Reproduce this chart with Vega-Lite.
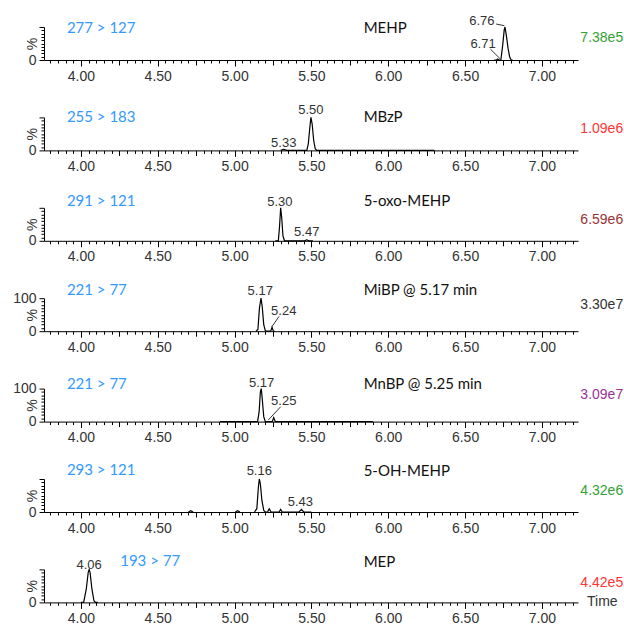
{
"$schema": "https://vega.github.io/schema/vega-lite/v6.json",
"background": "white",
"padding": {"left": 12, "top": 15, "right": 2, "bottom": 2},
"bounds": "flush",
"spacing": 57.4,
"config": {
  "view": {"stroke": null},
  "axis": {"domainColor": "#000", "tickColor": "#000", "labelColor": "#333", "labelFont": "Liberation Sans", "labelFontSize": 14, "grid": false, "domainWidth": 1, "tickWidth": 1}
},
"data": {"values": [
{"p":1,"k":"tr","s":1,"x":6.69,"y":0},{"p":1,"k":"tr","s":1,"x":6.705,"y":0},{"p":1,"k":"tr","s":1,"x":6.712,"y":3},{"p":1,"k":"tr","s":1,"x":6.72,"y":0},{"p":1,"k":"tr","s":1,"x":6.733,"y":0},{"p":1,"k":"tr","s":1,"x":6.745,"y":45},{"p":1,"k":"tr","s":1,"x":6.755,"y":92},{"p":1,"k":"tr","s":1,"x":6.76,"y":100},{"p":1,"k":"tr","s":1,"x":6.77,"y":70},{"p":1,"k":"tr","s":1,"x":6.78,"y":35},{"p":1,"k":"tr","s":1,"x":6.79,"y":10},{"p":1,"k":"tr","s":1,"x":6.8,"y":0},{"p":1,"k":"tr","s":1,"x":6.81,"y":0},
{"p":1,"k":"pk","x":6.609,"y":117,"t":"6.76"},{"p":1,"k":"pk","x":6.617,"y":48,"t":"6.71"},
{"p":1,"k":"ld","x":6.702,"y":109,"x2":6.756,"y2":104},{"p":1,"k":"ld","x":6.665,"y":33,"x2":6.73,"y2":3},
{"p":1,"k":"io","x":3.909,"y":96,"t":"277 > 127"},{"p":1,"k":"nm","x":5.84,"y":97,"t":"MEHP"},{"p":1,"k":"in","x":7.529,"y":66,"t":"7.38e5"},

{"p":2,"k":"tr","s":1,"x":5.3,"y":0},{"p":2,"k":"tr","s":1,"x":5.32,"y":3},{"p":2,"k":"tr","s":1,"x":5.34,"y":0},{"p":2,"k":"tr","s":1,"x":5.47,"y":0},{"p":2,"k":"tr","s":1,"x":5.48,"y":20},{"p":2,"k":"tr","s":1,"x":5.49,"y":70},{"p":2,"k":"tr","s":1,"x":5.497,"y":100},{"p":2,"k":"tr","s":1,"x":5.505,"y":80},{"p":2,"k":"tr","s":1,"x":5.515,"y":30},{"p":2,"k":"tr","s":1,"x":5.525,"y":5},{"p":2,"k":"tr","s":1,"x":5.535,"y":0},{"p":2,"k":"tr","s":1,"x":6.3,"y":0},
{"p":2,"k":"pk","x":5.497,"y":121,"t":"5.50"},{"p":2,"k":"pk","x":5.32,"y":23,"t":"5.33"},
{"p":2,"k":"io","x":3.909,"y":100,"t":"255 > 183"},{"p":2,"k":"nm","x":5.84,"y":100,"t":"MBzP"},{"p":2,"k":"in","x":7.529,"y":66,"t":"1.09e6"},

{"p":3,"k":"tr","s":1,"x":5.265,"y":0},{"p":3,"k":"tr","s":1,"x":5.285,"y":0},{"p":3,"k":"tr","s":1,"x":5.293,"y":45},{"p":3,"k":"tr","s":1,"x":5.3,"y":100},{"p":3,"k":"tr","s":1,"x":5.307,"y":70},{"p":3,"k":"tr","s":1,"x":5.315,"y":15},{"p":3,"k":"tr","s":1,"x":5.325,"y":0},{"p":3,"k":"tr","s":1,"x":5.455,"y":0},{"p":3,"k":"tr","s":1,"x":5.47,"y":3},{"p":3,"k":"tr","s":1,"x":5.485,"y":0},{"p":3,"k":"tr","s":1,"x":5.51,"y":0},
{"p":3,"k":"pk","x":5.295,"y":118,"t":"5.30"},{"p":3,"k":"pk","x":5.47,"y":27,"t":"5.47"},
{"p":3,"k":"io","x":3.909,"y":120,"t":"291 > 121"},{"p":3,"k":"nm","x":5.84,"y":120,"t":"5-oxo-MEHP"},{"p":3,"k":"in","x":7.529,"y":62,"t":"6.59e6"},

{"p":4,"k":"tr","s":1,"x":5.14,"y":0},{"p":4,"k":"tr","s":1,"x":5.152,"y":5},{"p":4,"k":"tr","s":1,"x":5.162,"y":70},{"p":4,"k":"tr","s":1,"x":5.172,"y":100},{"p":4,"k":"tr","s":1,"x":5.18,"y":75},{"p":4,"k":"tr","s":1,"x":5.19,"y":20},{"p":4,"k":"tr","s":1,"x":5.2,"y":2},{"p":4,"k":"tr","s":1,"x":5.21,"y":0},{"p":4,"k":"tr","s":1,"x":5.235,"y":0},{"p":4,"k":"tr","s":1,"x":5.244,"y":12},{"p":4,"k":"tr","s":1,"x":5.253,"y":0},{"p":4,"k":"tr","s":1,"x":5.26,"y":0},
{"p":4,"k":"pk","x":5.167,"y":121,"t":"5.17"},{"p":4,"k":"pk","x":5.32,"y":61,"t":"5.24"},
{"p":4,"k":"ld","x":5.29,"y":45,"x2":5.242,"y2":13},
{"p":4,"k":"io","x":3.909,"y":125,"t":"221 > 77"},{"p":4,"k":"nm","x":5.84,"y":125,"t":"MiBP @ 5.17 min"},{"p":4,"k":"in","x":7.529,"y":80,"t":"3.30e7"},

{"p":5,"k":"tr","s":1,"x":4.905,"y":0},{"p":5,"k":"tr","s":1,"x":5.15,"y":0},{"p":5,"k":"tr","s":1,"x":5.16,"y":30},{"p":5,"k":"tr","s":1,"x":5.168,"y":90},{"p":5,"k":"tr","s":1,"x":5.174,"y":100},{"p":5,"k":"tr","s":1,"x":5.18,"y":70},{"p":5,"k":"tr","s":1,"x":5.19,"y":15},{"p":5,"k":"tr","s":1,"x":5.2,"y":0},{"p":5,"k":"tr","s":1,"x":5.245,"y":0},{"p":5,"k":"tr","s":1,"x":5.255,"y":12},{"p":5,"k":"tr","s":1,"x":5.265,"y":0},{"p":5,"k":"tr","s":1,"x":5.9,"y":0},
{"p":5,"k":"pk","x":5.176,"y":116,"t":"5.17"},{"p":5,"k":"pk","x":5.32,"y":61,"t":"5.25"},
{"p":5,"k":"ld","x":5.3,"y":45,"x2":5.22,"y2":5},
{"p":5,"k":"io","x":3.909,"y":114,"t":"221 > 77"},{"p":5,"k":"nm","x":5.84,"y":114,"t":"MnBP @ 5.25 min"},{"p":5,"k":"in","x":7.529,"y":80,"t":"3.09e7"},

{"p":6,"k":"tr","s":1,"x":4.7,"y":0},{"p":6,"k":"tr","s":1,"x":4.715,"y":4},{"p":6,"k":"tr","s":1,"x":4.73,"y":0},
{"p":6,"k":"tr","s":2,"x":5.005,"y":0},{"p":6,"k":"tr","s":2,"x":5.02,"y":4},{"p":6,"k":"tr","s":2,"x":5.035,"y":0},
{"p":6,"k":"tr","s":3,"x":5.13,"y":0},{"p":6,"k":"tr","s":3,"x":5.145,"y":10},{"p":6,"k":"tr","s":3,"x":5.155,"y":75},{"p":6,"k":"tr","s":3,"x":5.161,"y":100},{"p":6,"k":"tr","s":3,"x":5.168,"y":85},{"p":6,"k":"tr","s":3,"x":5.178,"y":35},{"p":6,"k":"tr","s":3,"x":5.19,"y":5},{"p":6,"k":"tr","s":3,"x":5.2,"y":0},{"p":6,"k":"tr","s":3,"x":5.215,"y":0},{"p":6,"k":"tr","s":3,"x":5.226,"y":10},{"p":6,"k":"tr","s":3,"x":5.237,"y":0},{"p":6,"k":"tr","s":3,"x":5.29,"y":0},{"p":6,"k":"tr","s":3,"x":5.3,"y":8},{"p":6,"k":"tr","s":3,"x":5.31,"y":0},{"p":6,"k":"tr","s":3,"x":5.42,"y":0},{"p":6,"k":"tr","s":3,"x":5.435,"y":8},{"p":6,"k":"tr","s":3,"x":5.45,"y":0},{"p":6,"k":"tr","s":3,"x":5.5,"y":0},
{"p":6,"k":"pk","x":5.161,"y":124,"t":"5.16"},{"p":6,"k":"pk","x":5.428,"y":30,"t":"5.43"},
{"p":6,"k":"io","x":3.909,"y":126,"t":"293 > 121"},{"p":6,"k":"nm","x":5.84,"y":125,"t":"5-OH-MEHP"},{"p":6,"k":"in","x":7.529,"y":64,"t":"4.32e6"},

{"p":7,"k":"tr","s":1,"x":4.0,"y":0},{"p":7,"k":"tr","s":1,"x":4.018,"y":0},{"p":7,"k":"tr","s":1,"x":4.035,"y":40},{"p":7,"k":"tr","s":1,"x":4.048,"y":92},{"p":7,"k":"tr","s":1,"x":4.054,"y":100},{"p":7,"k":"tr","s":1,"x":4.06,"y":90},{"p":7,"k":"tr","s":1,"x":4.072,"y":40},{"p":7,"k":"tr","s":1,"x":4.085,"y":5},{"p":7,"k":"tr","s":1,"x":4.095,"y":0},{"p":7,"k":"tr","s":1,"x":4.11,"y":0},
{"p":7,"k":"pk","x":4.054,"y":113,"t":"4.06"},
{"p":7,"k":"io","x":4.256,"y":124,"t":"193 > 77"},{"p":7,"k":"nm","x":5.84,"y":123,"t":"MEP"},{"p":7,"k":"in","x":7.529,"y":58,"t":"4.42e5"},{"p":7,"k":"tm","x":7.294,"y":0,"t":"Time"}
]},
"vconcat": [
{"width":534,"height":33,"transform":[{"filter":"datum.p==1"}],
 "encoding":{
  "x":{"field":"x","type":"quantitative","scale":{"domain":[3.76,7.235],"nice":false,"zero":false},"axis":{"title":null,"values":[3.8,3.85,3.9,3.95,4,4.05,4.1,4.15,4.2,4.25,4.3,4.35,4.4,4.45,4.5,4.55,4.6,4.65,4.7,4.75,4.8,4.85,4.9,4.95,5,5.05,5.1,5.15,5.2,5.25,5.3,5.35,5.4,5.45,5.5,5.55,5.6,5.65,5.7,5.75,5.8,5.85,5.9,5.95,6,6.05,6.1,6.15,6.2,6.25,6.3,6.35,6.4,6.45,6.5,6.55,6.6,6.65,6.7,6.75,6.8,6.85,6.9,6.95,7,7.05,7.1,7.15,7.2],"labelExpr":"abs(datum.value*2-round(datum.value*2))<0.001 ? format(datum.value,'.2f') : ''","tickSize":{"condition":[{"test":"abs(datum.value*2-round(datum.value*2))<0.001","value":6},{"test":"abs(datum.value*4-round(datum.value*4))<0.001","value":5}],"value":3},"labelPadding":3,"labelOverlap":false,"labelFlush":false,"labelBound":false}},
  "y":{"field":"y","type":"quantitative","scale":{"domain":[0,100],"nice":false},"axis":{"title":"%","values":[0,10,20,30,40,50,60,70,80,90,100],"labelExpr":"datum.value==0 ? '0' : ''","tickSize":{"condition":{"test":"datum.value==0||datum.value==100","value":5},"value":3},"labelPadding":3,"titleX":-12,"titleY":16.5,"titleAngle":-90,"titleBaseline":"middle","titleAlign":"center","titleFontWeight":"normal","titleFont":"Liberation Sans","titleFontSize":14,"titleColor":"#333"}}
 },
 "layer":[
  {"transform":[{"filter":"datum.k=='tr'"}],"mark":{"type":"line","color":"#000","strokeWidth":1.2},"encoding":{"detail":{"field":"s"}}},
  {"transform":[{"filter":"datum.k=='ld'"}],"mark":{"type":"rule","color":"#333","strokeWidth":1},"encoding":{"x2":{"field":"x2"},"y2":{"field":"y2"}}},
  {"transform":[{"filter":"datum.k=='pk'"}],"mark":{"type":"text","font":"Liberation Sans","fontSize":13,"color":"#333","align":"center","baseline":"middle"},"encoding":{"text":{"field":"t"}}},
  {"transform":[{"filter":"datum.k=='io'"}],"mark":{"type":"text","font":"Lato","fontSize":15,"color":"#3399ff","align":"left","baseline":"middle"},"encoding":{"text":{"field":"t"}}},
  {"transform":[{"filter":"datum.k=='nm'"}],"mark":{"type":"text","font":"Lato","fontSize":15,"color":"#111","align":"left","baseline":"middle"},"encoding":{"text":{"field":"t"}}},
  {"transform":[{"filter":"datum.k=='in'"}],"mark":{"type":"text","font":"Liberation Sans","fontSize":14,"color":"#33a033","align":"right","baseline":"middle"},"encoding":{"text":{"field":"t"}}}
 ]},
{"width":534,"height":33,"transform":[{"filter":"datum.p==2"}],
 "encoding":{
  "x":{"field":"x","type":"quantitative","scale":{"domain":[3.76,7.235],"nice":false,"zero":false},"axis":{"title":null,"values":[3.8,3.85,3.9,3.95,4,4.05,4.1,4.15,4.2,4.25,4.3,4.35,4.4,4.45,4.5,4.55,4.6,4.65,4.7,4.75,4.8,4.85,4.9,4.95,5,5.05,5.1,5.15,5.2,5.25,5.3,5.35,5.4,5.45,5.5,5.55,5.6,5.65,5.7,5.75,5.8,5.85,5.9,5.95,6,6.05,6.1,6.15,6.2,6.25,6.3,6.35,6.4,6.45,6.5,6.55,6.6,6.65,6.7,6.75,6.8,6.85,6.9,6.95,7,7.05,7.1,7.15,7.2],"labelExpr":"abs(datum.value*2-round(datum.value*2))<0.001 ? format(datum.value,'.2f') : ''","tickSize":{"condition":[{"test":"abs(datum.value*2-round(datum.value*2))<0.001","value":6},{"test":"abs(datum.value*4-round(datum.value*4))<0.001","value":5}],"value":3},"labelPadding":3,"labelOverlap":false,"labelFlush":false,"labelBound":false}},
  "y":{"field":"y","type":"quantitative","scale":{"domain":[0,100],"nice":false},"axis":{"title":"%","values":[0,10,20,30,40,50,60,70,80,90,100],"labelExpr":"datum.value==0 ? '0' : ''","tickSize":{"condition":{"test":"datum.value==0||datum.value==100","value":5},"value":3},"labelPadding":3,"titleX":-12,"titleY":16.5,"titleAngle":-90,"titleBaseline":"middle","titleAlign":"center","titleFontWeight":"normal","titleFont":"Liberation Sans","titleFontSize":14,"titleColor":"#333"}}
 },
 "layer":[
  {"transform":[{"filter":"datum.k=='tr'"}],"mark":{"type":"line","color":"#000","strokeWidth":1.2},"encoding":{"detail":{"field":"s"}}},
  {"transform":[{"filter":"datum.k=='pk'"}],"mark":{"type":"text","font":"Liberation Sans","fontSize":13,"color":"#333","align":"center","baseline":"middle"},"encoding":{"text":{"field":"t"}}},
  {"transform":[{"filter":"datum.k=='io'"}],"mark":{"type":"text","font":"Lato","fontSize":15,"color":"#3399ff","align":"left","baseline":"middle"},"encoding":{"text":{"field":"t"}}},
  {"transform":[{"filter":"datum.k=='nm'"}],"mark":{"type":"text","font":"Lato","fontSize":15,"color":"#111","align":"left","baseline":"middle"},"encoding":{"text":{"field":"t"}}},
  {"transform":[{"filter":"datum.k=='in'"}],"mark":{"type":"text","font":"Liberation Sans","fontSize":14,"color":"#ff3333","align":"right","baseline":"middle"},"encoding":{"text":{"field":"t"}}}
 ]},
{"width":534,"height":33,"transform":[{"filter":"datum.p==3"}],
 "encoding":{
  "x":{"field":"x","type":"quantitative","scale":{"domain":[3.76,7.235],"nice":false,"zero":false},"axis":{"title":null,"values":[3.8,3.85,3.9,3.95,4,4.05,4.1,4.15,4.2,4.25,4.3,4.35,4.4,4.45,4.5,4.55,4.6,4.65,4.7,4.75,4.8,4.85,4.9,4.95,5,5.05,5.1,5.15,5.2,5.25,5.3,5.35,5.4,5.45,5.5,5.55,5.6,5.65,5.7,5.75,5.8,5.85,5.9,5.95,6,6.05,6.1,6.15,6.2,6.25,6.3,6.35,6.4,6.45,6.5,6.55,6.6,6.65,6.7,6.75,6.8,6.85,6.9,6.95,7,7.05,7.1,7.15,7.2],"labelExpr":"abs(datum.value*2-round(datum.value*2))<0.001 ? format(datum.value,'.2f') : ''","tickSize":{"condition":[{"test":"abs(datum.value*2-round(datum.value*2))<0.001","value":6},{"test":"abs(datum.value*4-round(datum.value*4))<0.001","value":5}],"value":3},"labelPadding":3,"labelOverlap":false,"labelFlush":false,"labelBound":false}},
  "y":{"field":"y","type":"quantitative","scale":{"domain":[0,100],"nice":false},"axis":{"title":"%","values":[0,10,20,30,40,50,60,70,80,90,100],"labelExpr":"datum.value==0 ? '0' : ''","tickSize":{"condition":{"test":"datum.value==0||datum.value==100","value":5},"value":3},"labelPadding":3,"titleX":-12,"titleY":16.5,"titleAngle":-90,"titleBaseline":"middle","titleAlign":"center","titleFontWeight":"normal","titleFont":"Liberation Sans","titleFontSize":14,"titleColor":"#333"}}
 },
 "layer":[
  {"transform":[{"filter":"datum.k=='tr'"}],"mark":{"type":"line","color":"#000","strokeWidth":1.2},"encoding":{"detail":{"field":"s"}}},
  {"transform":[{"filter":"datum.k=='pk'"}],"mark":{"type":"text","font":"Liberation Sans","fontSize":13,"color":"#333","align":"center","baseline":"middle"},"encoding":{"text":{"field":"t"}}},
  {"transform":[{"filter":"datum.k=='io'"}],"mark":{"type":"text","font":"Lato","fontSize":15,"color":"#3399ff","align":"left","baseline":"middle"},"encoding":{"text":{"field":"t"}}},
  {"transform":[{"filter":"datum.k=='nm'"}],"mark":{"type":"text","font":"Lato","fontSize":15,"color":"#111","align":"left","baseline":"middle"},"encoding":{"text":{"field":"t"}}},
  {"transform":[{"filter":"datum.k=='in'"}],"mark":{"type":"text","font":"Liberation Sans","fontSize":14,"color":"#993333","align":"right","baseline":"middle"},"encoding":{"text":{"field":"t"}}}
 ]},
{"width":534,"height":33,"transform":[{"filter":"datum.p==4"}],
 "encoding":{
  "x":{"field":"x","type":"quantitative","scale":{"domain":[3.76,7.235],"nice":false,"zero":false},"axis":{"title":null,"values":[3.8,3.85,3.9,3.95,4,4.05,4.1,4.15,4.2,4.25,4.3,4.35,4.4,4.45,4.5,4.55,4.6,4.65,4.7,4.75,4.8,4.85,4.9,4.95,5,5.05,5.1,5.15,5.2,5.25,5.3,5.35,5.4,5.45,5.5,5.55,5.6,5.65,5.7,5.75,5.8,5.85,5.9,5.95,6,6.05,6.1,6.15,6.2,6.25,6.3,6.35,6.4,6.45,6.5,6.55,6.6,6.65,6.7,6.75,6.8,6.85,6.9,6.95,7,7.05,7.1,7.15,7.2],"labelExpr":"abs(datum.value*2-round(datum.value*2))<0.001 ? format(datum.value,'.2f') : ''","tickSize":{"condition":[{"test":"abs(datum.value*2-round(datum.value*2))<0.001","value":6},{"test":"abs(datum.value*4-round(datum.value*4))<0.001","value":5}],"value":3},"labelPadding":3,"labelOverlap":false,"labelFlush":false,"labelBound":false}},
  "y":{"field":"y","type":"quantitative","scale":{"domain":[0,100],"nice":false},"axis":{"title":"%","values":[0,10,20,30,40,50,60,70,80,90,100],"labelExpr":"datum.value==0||datum.value==100 ? format(datum.value,'d') : ''","tickSize":{"condition":{"test":"datum.value==0||datum.value==100","value":5},"value":3},"labelPadding":3,"titleX":-12,"titleY":16.5,"titleAngle":-90,"titleBaseline":"middle","titleAlign":"center","titleFontWeight":"normal","titleFont":"Liberation Sans","titleFontSize":14,"titleColor":"#333"}}
 },
 "layer":[
  {"transform":[{"filter":"datum.k=='tr'"}],"mark":{"type":"line","color":"#000","strokeWidth":1.2},"encoding":{"detail":{"field":"s"}}},
  {"transform":[{"filter":"datum.k=='ld'"}],"mark":{"type":"rule","color":"#333","strokeWidth":1},"encoding":{"x2":{"field":"x2"},"y2":{"field":"y2"}}},
  {"transform":[{"filter":"datum.k=='pk'"}],"mark":{"type":"text","font":"Liberation Sans","fontSize":13,"color":"#333","align":"center","baseline":"middle"},"encoding":{"text":{"field":"t"}}},
  {"transform":[{"filter":"datum.k=='io'"}],"mark":{"type":"text","font":"Lato","fontSize":15,"color":"#3399ff","align":"left","baseline":"middle"},"encoding":{"text":{"field":"t"}}},
  {"transform":[{"filter":"datum.k=='nm'"}],"mark":{"type":"text","font":"Lato","fontSize":15,"color":"#111","align":"left","baseline":"middle"},"encoding":{"text":{"field":"t"}}},
  {"transform":[{"filter":"datum.k=='in'"}],"mark":{"type":"text","font":"Liberation Sans","fontSize":14,"color":"#333333","align":"right","baseline":"middle"},"encoding":{"text":{"field":"t"}}}
 ]},
{"width":534,"height":33,"transform":[{"filter":"datum.p==5"}],
 "encoding":{
  "x":{"field":"x","type":"quantitative","scale":{"domain":[3.76,7.235],"nice":false,"zero":false},"axis":{"title":null,"values":[3.8,3.85,3.9,3.95,4,4.05,4.1,4.15,4.2,4.25,4.3,4.35,4.4,4.45,4.5,4.55,4.6,4.65,4.7,4.75,4.8,4.85,4.9,4.95,5,5.05,5.1,5.15,5.2,5.25,5.3,5.35,5.4,5.45,5.5,5.55,5.6,5.65,5.7,5.75,5.8,5.85,5.9,5.95,6,6.05,6.1,6.15,6.2,6.25,6.3,6.35,6.4,6.45,6.5,6.55,6.6,6.65,6.7,6.75,6.8,6.85,6.9,6.95,7,7.05,7.1,7.15,7.2],"labelExpr":"abs(datum.value*2-round(datum.value*2))<0.001 ? format(datum.value,'.2f') : ''","tickSize":{"condition":[{"test":"abs(datum.value*2-round(datum.value*2))<0.001","value":6},{"test":"abs(datum.value*4-round(datum.value*4))<0.001","value":5}],"value":3},"labelPadding":3,"labelOverlap":false,"labelFlush":false,"labelBound":false}},
  "y":{"field":"y","type":"quantitative","scale":{"domain":[0,100],"nice":false},"axis":{"title":"%","values":[0,10,20,30,40,50,60,70,80,90,100],"labelExpr":"datum.value==0||datum.value==100 ? format(datum.value,'d') : ''","tickSize":{"condition":{"test":"datum.value==0||datum.value==100","value":5},"value":3},"labelPadding":3,"titleX":-12,"titleY":16.5,"titleAngle":-90,"titleBaseline":"middle","titleAlign":"center","titleFontWeight":"normal","titleFont":"Liberation Sans","titleFontSize":14,"titleColor":"#333"}}
 },
 "layer":[
  {"transform":[{"filter":"datum.k=='tr'"}],"mark":{"type":"line","color":"#000","strokeWidth":1.2},"encoding":{"detail":{"field":"s"}}},
  {"transform":[{"filter":"datum.k=='ld'"}],"mark":{"type":"rule","color":"#333","strokeWidth":1},"encoding":{"x2":{"field":"x2"},"y2":{"field":"y2"}}},
  {"transform":[{"filter":"datum.k=='pk'"}],"mark":{"type":"text","font":"Liberation Sans","fontSize":13,"color":"#333","align":"center","baseline":"middle"},"encoding":{"text":{"field":"t"}}},
  {"transform":[{"filter":"datum.k=='io'"}],"mark":{"type":"text","font":"Lato","fontSize":15,"color":"#3399ff","align":"left","baseline":"middle"},"encoding":{"text":{"field":"t"}}},
  {"transform":[{"filter":"datum.k=='nm'"}],"mark":{"type":"text","font":"Lato","fontSize":15,"color":"#111","align":"left","baseline":"middle"},"encoding":{"text":{"field":"t"}}},
  {"transform":[{"filter":"datum.k=='in'"}],"mark":{"type":"text","font":"Liberation Sans","fontSize":14,"color":"#993399","align":"right","baseline":"middle"},"encoding":{"text":{"field":"t"}}}
 ]},
{"width":534,"height":33,"transform":[{"filter":"datum.p==6"}],
 "encoding":{
  "x":{"field":"x","type":"quantitative","scale":{"domain":[3.76,7.235],"nice":false,"zero":false},"axis":{"title":null,"values":[3.8,3.85,3.9,3.95,4,4.05,4.1,4.15,4.2,4.25,4.3,4.35,4.4,4.45,4.5,4.55,4.6,4.65,4.7,4.75,4.8,4.85,4.9,4.95,5,5.05,5.1,5.15,5.2,5.25,5.3,5.35,5.4,5.45,5.5,5.55,5.6,5.65,5.7,5.75,5.8,5.85,5.9,5.95,6,6.05,6.1,6.15,6.2,6.25,6.3,6.35,6.4,6.45,6.5,6.55,6.6,6.65,6.7,6.75,6.8,6.85,6.9,6.95,7,7.05,7.1,7.15,7.2],"labelExpr":"abs(datum.value*2-round(datum.value*2))<0.001 ? format(datum.value,'.2f') : ''","tickSize":{"condition":[{"test":"abs(datum.value*2-round(datum.value*2))<0.001","value":6},{"test":"abs(datum.value*4-round(datum.value*4))<0.001","value":5}],"value":3},"labelPadding":3,"labelOverlap":false,"labelFlush":false,"labelBound":false}},
  "y":{"field":"y","type":"quantitative","scale":{"domain":[0,100],"nice":false},"axis":{"title":"%","values":[0,10,20,30,40,50,60,70,80,90,100],"labelExpr":"datum.value==0 ? '0' : ''","tickSize":{"condition":{"test":"datum.value==0||datum.value==100","value":5},"value":3},"labelPadding":3,"titleX":-12,"titleY":16.5,"titleAngle":-90,"titleBaseline":"middle","titleAlign":"center","titleFontWeight":"normal","titleFont":"Liberation Sans","titleFontSize":14,"titleColor":"#333"}}
 },
 "layer":[
  {"transform":[{"filter":"datum.k=='tr'"}],"mark":{"type":"line","color":"#000","strokeWidth":1.2},"encoding":{"detail":{"field":"s"}}},
  {"transform":[{"filter":"datum.k=='pk'"}],"mark":{"type":"text","font":"Liberation Sans","fontSize":13,"color":"#333","align":"center","baseline":"middle"},"encoding":{"text":{"field":"t"}}},
  {"transform":[{"filter":"datum.k=='io'"}],"mark":{"type":"text","font":"Lato","fontSize":15,"color":"#3399ff","align":"left","baseline":"middle"},"encoding":{"text":{"field":"t"}}},
  {"transform":[{"filter":"datum.k=='nm'"}],"mark":{"type":"text","font":"Lato","fontSize":15,"color":"#111","align":"left","baseline":"middle"},"encoding":{"text":{"field":"t"}}},
  {"transform":[{"filter":"datum.k=='in'"}],"mark":{"type":"text","font":"Liberation Sans","fontSize":14,"color":"#33a033","align":"right","baseline":"middle"},"encoding":{"text":{"field":"t"}}}
 ]},
{"width":534,"height":33,"transform":[{"filter":"datum.p==7"}],
 "encoding":{
  "x":{"field":"x","type":"quantitative","scale":{"domain":[3.76,7.235],"nice":false,"zero":false},"axis":{"title":null,"values":[3.8,3.85,3.9,3.95,4,4.05,4.1,4.15,4.2,4.25,4.3,4.35,4.4,4.45,4.5,4.55,4.6,4.65,4.7,4.75,4.8,4.85,4.9,4.95,5,5.05,5.1,5.15,5.2,5.25,5.3,5.35,5.4,5.45,5.5,5.55,5.6,5.65,5.7,5.75,5.8,5.85,5.9,5.95,6,6.05,6.1,6.15,6.2,6.25,6.3,6.35,6.4,6.45,6.5,6.55,6.6,6.65,6.7,6.75,6.8,6.85,6.9,6.95,7,7.05,7.1,7.15,7.2],"labelExpr":"abs(datum.value*2-round(datum.value*2))<0.001 ? format(datum.value,'.2f') : ''","tickSize":{"condition":[{"test":"abs(datum.value*2-round(datum.value*2))<0.001","value":6},{"test":"abs(datum.value*4-round(datum.value*4))<0.001","value":5}],"value":3},"labelPadding":3,"labelOverlap":false,"labelFlush":false,"labelBound":false}},
  "y":{"field":"y","type":"quantitative","scale":{"domain":[0,100],"nice":false},"axis":{"title":"%","values":[0,10,20,30,40,50,60,70,80,90,100],"labelExpr":"datum.value==0 ? '0' : ''","tickSize":{"condition":{"test":"datum.value==0||datum.value==100","value":5},"value":3},"labelPadding":3,"titleX":-12,"titleY":16.5,"titleAngle":-90,"titleBaseline":"middle","titleAlign":"center","titleFontWeight":"normal","titleFont":"Liberation Sans","titleFontSize":14,"titleColor":"#333"}}
 },
 "layer":[
  {"transform":[{"filter":"datum.k=='tr'"}],"mark":{"type":"line","color":"#000","strokeWidth":1.2},"encoding":{"detail":{"field":"s"}}},
  {"transform":[{"filter":"datum.k=='pk'"}],"mark":{"type":"text","font":"Liberation Sans","fontSize":13,"color":"#333","align":"center","baseline":"middle"},"encoding":{"text":{"field":"t"}}},
  {"transform":[{"filter":"datum.k=='io'"}],"mark":{"type":"text","font":"Lato","fontSize":15,"color":"#3399ff","align":"left","baseline":"middle"},"encoding":{"text":{"field":"t"}}},
  {"transform":[{"filter":"datum.k=='nm'"}],"mark":{"type":"text","font":"Lato","fontSize":15,"color":"#111","align":"left","baseline":"middle"},"encoding":{"text":{"field":"t"}}},
  {"transform":[{"filter":"datum.k=='in'"}],"mark":{"type":"text","font":"Liberation Sans","fontSize":14,"color":"#ff3333","align":"right","baseline":"middle"},"encoding":{"text":{"field":"t"}}},
  {"transform":[{"filter":"datum.k=='tm'"}],"mark":{"type":"text","font":"Liberation Sans","fontSize":14,"color":"#333","align":"left","baseline":"middle"},"encoding":{"text":{"field":"t"}}}
 ]}
]
}
